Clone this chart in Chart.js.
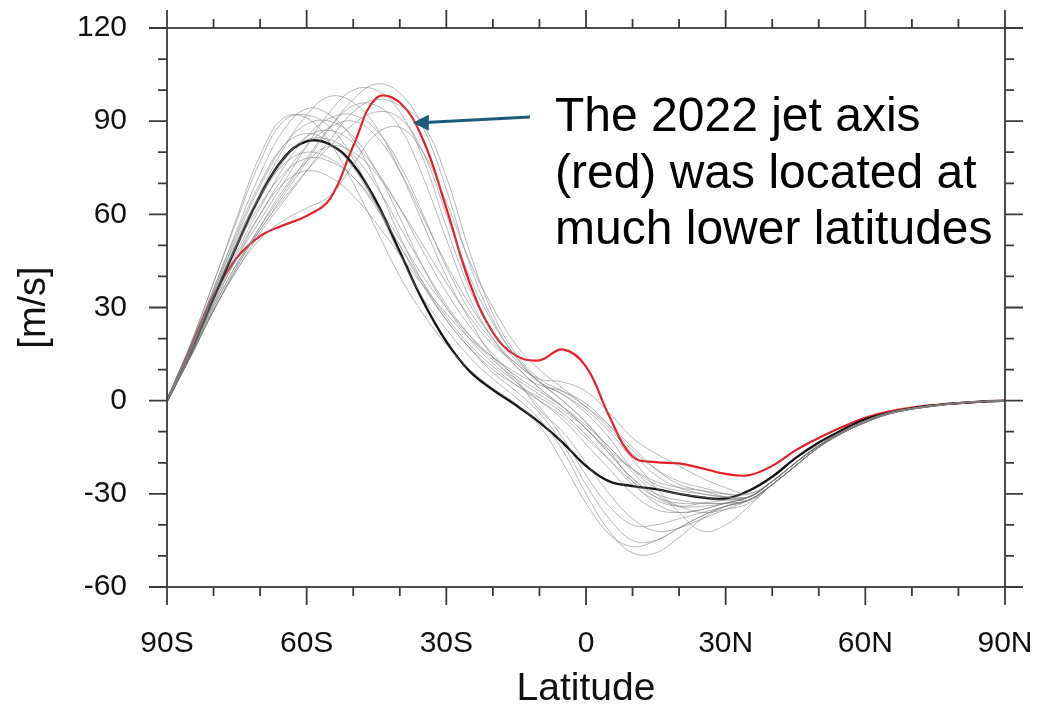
<!DOCTYPE html>
<html>
<head>
<meta charset="utf-8">
<script src="https://cdn.jsdelivr.net/npm/chart.js@4"></script>
<style>
  html, body { margin: 0; padding: 0; background: #fff; }
  #wrap { width: 1038px; height: 713px; }
</style>
</head>
<body>
<div id="wrap"><canvas id="jet" width="1038" height="713"></canvas></div>
<script>
(function () {
    'use strict';

    // latitude grid, every 5 degrees from 90S to 90N
    var lats = [-90, -85, -80, -75, -70, -65, -60, -55, -50, -45, -40, -35, -30, -25, -20, -15, -10, -5,
        0, 5, 10, 15, 20, 25, 30, 35, 40, 45, 50, 55, 60, 65, 70, 75, 80, 85, 90];

    var xTicks = [-90, -60, -30, 0, 30, 60, 90];
    var yTicks = [-60, -30, 0, 30, 60, 90, 120];

    // 2022 (red)
    var jet2022 = [0, 17, 34, 46, 53, 56.5, 59.5, 65, 82, 97.5, 96, 84, 62, 38, 22, 14.5, 13, 16.5,
        11, -5, -18, -19.8, -20.2, -21.8, -23.6, -24, -21, -16, -12, -8.5, -5.5, -3.5, -2.2, -1.4, -0.8, -0.3, 0];

    // climatological mean (black)
    var jetMean = [0, 15, 33, 50, 66, 78, 83.5, 82.5, 76, 64, 48, 32, 19, 9.5, 3.5, -1.5, -7, -13.5,
        -21, -26, -27.5, -28.5, -30, -31.2, -31.5, -29, -24.5, -18.5, -13.5, -9.5, -6, -4, -2.5, -1.5, -0.8, -0.3, 0];

    // individual years (grey)
    var years = [
        [0, 14, 30, 44, 55, 66, 77, 88, 97, 102, 99, 88, 68, 44, 26, 14, 6, 2, -4, -12, -22, -28, -30, -31, -32, -31, -26, -20, -14, -10, -6.5, -4, -2.5, -1.5, -0.8, -0.3, 0],
        [0, 15, 31, 46, 58, 70, 82, 93, 100, 100, 93, 78, 56, 36, 22, 13, 6, 0, -7, -16, -26, -33, -36, -35, -33, -31, -26, -20, -14.5, -10, -6.5, -4, -2.5, -1.5, -0.8, -0.3, 0],
        [0, 16, 34, 51, 67, 81, 92, 98, 96, 88, 74, 57, 40, 26, 14, 6, -2, -12, -24, -34, -40, -40, -38, -36, -34, -32, -27, -21, -15, -10.5, -7, -4.3, -2.7, -1.6, -0.8, -0.3, 0],
        [0, 17, 36, 55, 73, 87, 94, 92, 84, 70, 53, 38, 26, 17, 9, 3, -4, -14, -27, -38, -45, -45, -41, -37, -34, -32, -27, -21, -15, -10.5, -7, -4.3, -2.7, -1.6, -0.8, -0.3, 0],
        [0, 18, 38, 58, 77, 90, 92, 88, 78, 63, 47, 33, 23, 14, 7, 1, -6, -16, -30, -42, -49, -49, -44, -38, -34, -32, -27, -21, -15, -10.5, -7, -4.3, -2.7, -1.6, -0.8, -0.3, 0],
        [0, 16, 35, 53, 69, 82, 89, 90, 85, 74, 59, 43, 30, 20, 12, 6, 0, -6, -14, -22, -30, -35, -36, -35, -33, -31, -26, -20, -14.5, -10, -6.5, -4, -2.5, -1.5, -0.8, -0.3, 0],
        [0, 15, 32, 48, 62, 75, 85, 91, 92, 87, 76, 60, 43, 29, 19, 11, 4, -2, -9, -17, -25, -30, -32, -33, -33, -32, -27, -21, -15, -10.5, -7, -4.3, -2.7, -1.6, -0.8, -0.3, 0],
        [0, 14, 30, 44, 56, 67, 78, 88, 95, 95, 88, 72, 52, 33, 20, 11, 4, -2, -9, -17, -25, -31, -34, -34, -33, -31, -26, -20, -14.5, -10, -6.5, -4, -2.5, -1.5, -0.8, -0.3, 0],
        [0, 17, 36, 54, 70, 82, 86, 83, 75, 63, 50, 37, 26, 17, 10, 5, 1, -4, -11, -19, -27, -32, -34, -33, -32, -31, -26, -20, -14.5, -10, -6.5, -4, -2.5, -1.5, -0.8, -0.3, 0],
        [0, 16, 34, 51, 66, 78, 84, 84, 79, 69, 56, 43, 31, 21, 13, 7, 2, -3, -9, -16, -22, -26, -28, -29, -30, -30, -26, -20, -14.5, -10, -6.5, -4, -2.5, -1.5, -0.8, -0.3, 0],
        [0, 16, 34, 50, 63, 73, 78, 77, 72, 63, 52, 40, 30, 21, 14, 8, 3, -2, -8, -15, -23, -30, -34, -36, -35, -33, -27, -21, -15, -10.5, -7, -4.3, -2.7, -1.6, -0.8, -0.3, 0],
        [0, 15, 32, 47, 60, 70, 74, 72, 66, 57, 47, 37, 28, 20, 14, 9, 5, 3, -1, -8, -16, -22, -26, -28, -30, -31, -26, -20, -14.5, -10, -6.5, -4, -2.5, -1.5, -0.8, -0.3, 0],
        [0, 14, 29, 42, 52, 58, 62, 66, 76, 86, 88, 80, 64, 45, 30, 18, 10, 4, -2, -9, -17, -24, -28, -30, -31, -31, -26, -20, -14.5, -10, -6.5, -4, -2.5, -1.5, -0.8, -0.3, 0],
        [0, 14, 29, 43, 56, 68, 77, 82, 80, 73, 62, 50, 38, 27, 18, 12, 6, 2, -3, -10, -19, -28, -36, -42, -40, -34, -27, -21, -15, -10.5, -7, -4.3, -2.7, -1.6, -0.8, -0.3, 0],
        [0, 15, 31, 46, 60, 72, 82, 88, 90, 85, 74, 59, 44, 31, 20, 12, 7, 6, 3, -4, -12, -17, -21, -25, -28, -30, -26, -20, -14.5, -10, -6.5, -4, -2.5, -1.5, -0.8, -0.3, 0],
        [0, 14, 29, 43, 55, 65, 74, 82, 89, 93, 91, 80, 60, 40, 25, 14, 6, 0, -7, -15, -22, -27, -29, -30, -31, -31, -26, -20, -14.5, -10, -6.5, -4, -2.5, -1.5, -0.8, -0.3, 0],
        [0, 18, 38, 59, 79, 91, 91, 83, 70, 55, 40, 28, 18, 10, 4, -1, -8, -20, -33, -43, -47, -45, -41, -37, -34, -32, -27, -21, -15, -10.5, -7, -4.3, -2.7, -1.6, -0.8, -0.3, 0],
        [0, 16, 33, 50, 65, 77, 85, 87, 83, 74, 62, 48, 35, 24, 15, 7, -3, -10, -20, -30, -38, -42, -41, -38, -35, -32, -27, -21, -15, -10.5, -7, -4.3, -2.7, -1.6, -0.8, -0.3, 0],
        [0, 17, 35, 52, 66, 76, 80, 78, 72, 62, 50, 38, 27, 18, 11, 5, 0, -5, -12, -19, -26, -31, -33, -33, -33, -32, -27, -21, -15, -10.5, -7, -4.3, -2.7, -1.6, -0.8, -0.3, 0],
        [0, 14, 29, 42, 54, 64, 74, 84, 93, 97, 95, 89, 72, 48, 28, 15, 7, 3, -2, -8, -15, -22, -27, -29, -31, -32, -27, -21, -15, -10.5, -7, -4.3, -2.7, -1.6, -0.8, -0.3, 0]
    ];

    var FONT = '"Liberation Sans", Arial, Helvetica, sans-serif',
        AXIS_COLOR = '#3a3a3a',
        ARROW_COLOR = '#1d5a7a',

        toPoints = function (values) {
            return lats.map(function (lat, i) {
                return { x: lat, y: values[i] };
            });
        },

        latLabel = function (value) {
            if (value === 0) { return '0'; }
            return Math.abs(value) + (value < 0 ? 'S' : 'N');
        },

        // keep edge tick labels from shrinking the plot area
        noEdgePadding = function (scale) {
            scale.paddingLeft = 0;
            scale.paddingRight = 0;
            scale.paddingTop = 0;
            scale.paddingBottom = 0;
        },

        datasets = [];

    years.forEach(function (values) {
        datasets.push({
            data: toPoints(values),
            borderColor: 'rgba(125, 125, 125, 0.55)',
            borderWidth: 1
        });
    });

    datasets.push({ data: toPoints(jetMean), borderColor: '#151515', borderWidth: 2.4 });
    datasets.push({ data: toPoints(jet2022), borderColor: '#e2212b', borderWidth: 2.2 });

    // frame plus outward major/minor tick marks on all four sides
    var frameTicks = {
        id: 'frameTicks',
        afterDraw: function (chart) {
            var ctx = chart.ctx,
                area = chart.chartArea,
                xs = chart.scales.x,
                ys = chart.scales.y,
                v, p, len;

            ctx.save();
            ctx.strokeStyle = AXIS_COLOR;
            ctx.lineWidth = 1.8;
            ctx.strokeRect(area.left, area.top, area.right - area.left, area.bottom - area.top);

            ctx.beginPath();
            for (v = -90; v <= 90; v += 10) {
                p = xs.getPixelForValue(v);
                len = (v % 30 === 0) ? 18 : 9;
                ctx.moveTo(p, area.bottom);
                ctx.lineTo(p, area.bottom + len);
                ctx.moveTo(p, area.top);
                ctx.lineTo(p, area.top - len);
            }
            for (v = -60; v <= 120; v += 10) {
                p = ys.getPixelForValue(v);
                len = (v % 30 === 0) ? 18 : 9;
                ctx.moveTo(area.left, p);
                ctx.lineTo(area.left - len, p);
                ctx.moveTo(area.right, p);
                ctx.lineTo(area.right + len, p);
            }
            ctx.stroke();
            ctx.restore();
        }
    };

    // callout text and arrow pointing at the 2022 curve
    var callout = {
        id: 'callout',
        afterDraw: function (chart) {
            var ctx = chart.ctx,
                tipX = chart.scales.x.getPixelForValue(-37.2),
                tipY = chart.scales.y.getPixelForValue(89.5),
                lines = ['The 2022 jet axis', '(red) was located at', 'much lower latitudes'],
                baselines = [131, 188, 244];

            ctx.save();
            ctx.strokeStyle = ARROW_COLOR;
            ctx.fillStyle = ARROW_COLOR;
            ctx.lineWidth = 3;
            ctx.beginPath();
            ctx.moveTo(530, 117);
            ctx.lineTo(tipX + 12, tipY - 0.3);
            ctx.stroke();
            ctx.beginPath();
            ctx.moveTo(tipX, tipY);
            ctx.lineTo(tipX + 16, tipY - 8);
            ctx.lineTo(tipX + 16, tipY + 8);
            ctx.closePath();
            ctx.fill();

            ctx.fillStyle = '#000';
            ctx.font = '48px ' + FONT;
            ctx.textAlign = 'left';
            ctx.textBaseline = 'alphabetic';
            lines.forEach(function (text, i) {
                ctx.fillText(text, 555, baselines[i]);
            });
            ctx.restore();
        }
    };

    new Chart(document.getElementById('jet'), {
        type: 'line',
        data: { datasets: datasets },
        plugins: [frameTicks, callout],
        options: {
            responsive: false,
            animation: false,
            devicePixelRatio: 1,
            layout: { padding: { top: 28, right: 33, bottom: 0, left: 0 } },
            elements: {
                point: { radius: 0 },
                line: { tension: 0.4, fill: false }
            },
            plugins: {
                legend: { display: false },
                tooltip: { enabled: false }
            },
            scales: {
                x: {
                    type: 'linear',
                    min: -90,
                    max: 90,
                    afterBuildTicks: function (scale) {
                        scale.ticks = xTicks.map(function (v) { return { value: v }; });
                    },
                    afterFit: function (scale) {
                        scale.height = 126;
                        noEdgePadding(scale);
                    },
                    grid: { display: false, drawTicks: false },
                    border: { display: false },
                    ticks: {
                        callback: latLabel,
                        color: '#111',
                        padding: 39,
                        maxRotation: 0,
                        font: { family: FONT, size: 30 }
                    },
                    title: {
                        display: true,
                        text: 'Latitude',
                        color: '#111',
                        padding: { top: 4, bottom: 0 },
                        font: { family: FONT, size: 39 }
                    }
                },
                y: {
                    type: 'linear',
                    min: -60,
                    max: 120,
                    afterBuildTicks: function (scale) {
                        scale.ticks = yTicks.map(function (v) { return { value: v }; });
                    },
                    afterFit: function (scale) {
                        scale.width = 167;
                        noEdgePadding(scale);
                    },
                    grid: { display: false, drawTicks: false },
                    border: { display: false },
                    ticks: {
                        color: '#111',
                        padding: 40,
                        font: { family: FONT, size: 30 }
                    },
                    title: {
                        display: true,
                        text: '[m/s]',
                        color: '#111',
                        padding: { top: 12, bottom: 0 },
                        font: { family: FONT, size: 38 }
                    }
                }
            }
        }
    });
}());
</script>
</body>
</html>
